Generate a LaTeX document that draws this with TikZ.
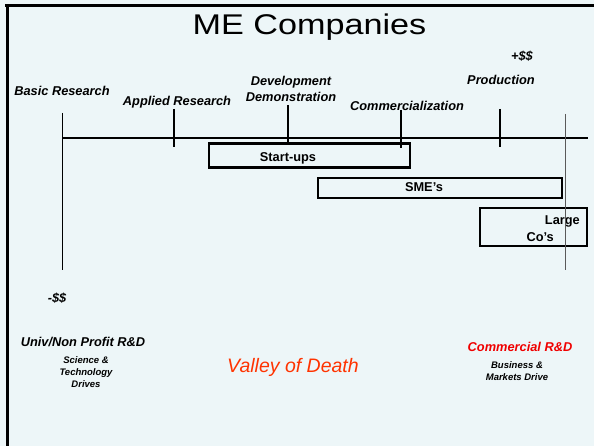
\documentclass[tikz,border=0pt]{standalone}
\usepackage{fontspec}
\setmainfont{Liberation Sans}
\newfontfamily\titlefont[FakeStretch=1.2]{Liberation Sans}
\definecolor{bg}{RGB}{237,246,248}
\definecolor{vod}{RGB}{255,51,0}
\definecolor{crd}{RGB}{240,0,0}
\definecolor{thingrey}{RGB}{90,90,90}
\begin{document}
\begin{tikzpicture}[x=1pt,y=-1pt,
  lbl/.style={font=\fontsize{12.8}{16}\selectfont\bfseries\itshape, inner sep=0pt, anchor=base},
  lblup/.style={font=\fontsize{12.8}{17}\selectfont\bfseries, inner sep=0pt, anchor=base},
  small/.style={font=\fontsize{9.5}{11.8}\selectfont\bfseries\itshape, inner sep=0pt, align=center, anchor=north},
  stagebox/.style={draw, line width=2.7pt, inner sep=0pt},
  tickline/.style={line width=2.2pt},
  thinline/.style={line width=1pt}]
\useasboundingbox (0,0) rectangle (594,446);
\fill[bg] (0,0) rectangle (594,446);
% frame
\draw[line width=2.5pt] (5,5.5) -- (594,5.5);
\draw[line width=3pt] (7.5,4.5) -- (7.5,446);
% title
\node[inner sep=0pt, anchor=base, font=\titlefont\fontsize{28.5}{30}\selectfont] (title) at (309.5,35) {ME Companies};
% axis
\coordinate (axL) at (62,138);
\coordinate (axR) at (588,138);
\draw[line width=1.3pt] (axL) -- (axR);
% ticks
\coordinate (t1a) at (62,113);   \coordinate (t1b) at (62,270);
\coordinate (t2a) at (174,109);  \coordinate (t2b) at (174,147);
\coordinate (t3a) at (288,105);  \coordinate (t3b) at (288,143);
\coordinate (t4a) at (401,110);  \coordinate (t4b) at (401,148);
\coordinate (t5a) at (500,109);  \coordinate (t5b) at (500,147);
\coordinate (t6a) at (565,114);  \coordinate (t6b) at (565,270);
\draw[thinline] (t1a) -- (t1b);
\draw[tickline] (t2a) -- (t2b);
\draw[tickline] (t3a) -- (t3b);
\draw[tickline] (t4a) -- (t4b);
\draw[tickline] (t5a) -- (t5b);
% stage labels
\node[lbl] (plus) at (522,60.5) {+\$\$};
\node[lbl] (prod) at (501,85) {Production};
\node[lbl] (basic) at (62,95.5) {Basic Research};
\node[lbl] (applied) at (177,105.5) {Applied Research};
\node[lbl, anchor=north, align=center] (dev) at (291,75.8) {Development\\Demonstration};
\node[lbl] (comm) at (407,110.5) {Commercialization};
% boxes
\node[stagebox, minimum width=201pt, minimum height=24pt] (startups) at (309.5,155.5) {};
\node[lblup] (startupsT) at (288,161.5) {Start-ups};
\node[stagebox, minimum width=244pt, minimum height=20pt] (smes) at (440,188) {};
\node[lblup] (smesT) at (424,191.5) {SME’s};
\node[stagebox, minimum width=107pt, minimum height=38pt] (large) at (533.5,227) {};
\node[lblup, anchor=north east, align=right] (largeT) at (580,215.3) {Large\\Co’s\hspace*{26pt}\mbox{}};
\draw[thinline, thingrey] (t6a) -- (t6b);
% bottom texts
\node[lbl] (minus) at (57,302) {-\$\$};
\node[lbl] (univ) at (83,346) {Univ/Non Profit R\&D};
\node[small] (sci) at (86,356.6) {Science \&\\Technology\\Drives};
\node[inner sep=0pt, anchor=base, text=vod, font=\fontsize{19.5}{22}\selectfont\itshape] (valley) at (293,372) {Valley of Death};
\node[lbl, text=crd] (crd) at (520,351.5) {Commercial R\&D};
\node[small, font=\fontsize{9.5}{12}\selectfont\bfseries\itshape] (bus) at (517,361.6) {Business \&\\Markets Drive};
\end{tikzpicture}
\end{document}
